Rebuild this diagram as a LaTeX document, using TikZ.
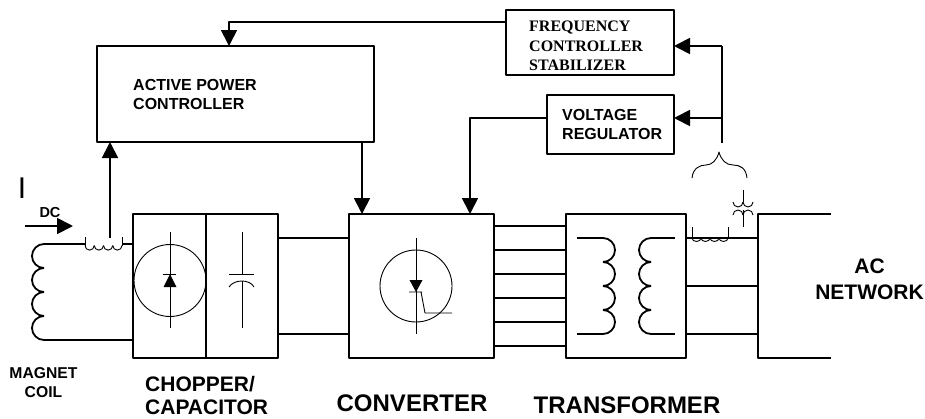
\documentclass[tikz,border=0pt]{standalone}
\usepackage{fontspec}
\setmainfont{Liberation Sans}
\newfontfamily\serifbold{Liberation Serif}
\usetikzlibrary{arrows.meta}
\tikzset{
	block/.style={draw, line width=1.8pt, inner sep=0pt, outer sep=0pt},
	wire/.style={line width=1.8pt},
	thinline/.style={line width=0.9pt},
	label/.style={inner sep=0pt, align=left, anchor=west, font=\bfseries\fontsize{16}{19}\selectfont},
	biglabel/.style={inner sep=0pt, align=center, font=\bfseries\fontsize{24}{26}\selectfont}
}
\begin{document}
\begin{tikzpicture}[x=1pt, y=1pt, yscale=-1, >={Triangle[length=16pt,width=16pt]}, line join=round]
	\useasboundingbox (0,0) rectangle (925,418);
	% blocks
	\node [block, minimum width=277pt, minimum height=96pt] (apc) at (235.5,94) {};
	\node [block, minimum width=168pt, minimum height=65pt] (fcs) at (590,42.5) {};
	\node [block, minimum width=127pt, minimum height=59pt] (vreg) at (610.5,124.5) {};
	\node [block, minimum width=73pt, minimum height=144pt] (chop) at (169.5,286) {};
	\node [block, minimum width=72pt, minimum height=144pt] (cap) at (242,286) {};
	\node [block, minimum width=145pt, minimum height=144pt] (conv) at (421.5,286) {};
	\node [block, minimum width=120pt, minimum height=144pt] (trans) at (626,286) {};
	% labels
	\node [label] (apctext) at (133,94) {ACTIVE POWER\\CONTROLLER};
	\node [label, font=\serifbold\bfseries\fontsize{16}{19.5}\selectfont] (fcstext) at (529,46) {FREQUENCY\\CONTROLLER\\STABILIZER};
	\node [label] (vregtext) at (562,124) {VOLTAGE\\REGULATOR};
	\node [inner sep=0pt, font=\fontsize{30}{30}\selectfont] (itext) at (22,188) {I};
	\node [inner sep=0pt, font=\bfseries\fontsize{14.5}{16}\selectfont] (dctext) at (50,213) {DC};
	\node [label, align=center, anchor=center, font=\bfseries\fontsize{15.7}{19}\selectfont] (coiltext) at (43.5,382.5) {MAGNET\\COIL};
	\node [biglabel, align=left, anchor=north west, font=\bfseries\fontsize{21}{23}\selectfont] (choptext) at (145,376) {CHOPPER/\\CAPACITOR};
	\node [biglabel] (convtext) at (412,403) {CONVERTER};
	\node [biglabel] (transtext) at (627,405.5) {TRANSFORMER};
	\node [biglabel, font=\bfseries\fontsize{21}{26}\selectfont] (actext) at (869.5,279) {AC\\NETWORK};
	% feedback paths
	\coordinate (tap) at (722,143);
	\coordinate (busf) at (722,46);
	\coordinate (busv) at (722,118);
	\coordinate (cbar) at (110,238);
	\coordinate (apcin) at (229,22);
	\coordinate (vout) at (470,118);
	\draw [wire] (tap) -- (busf);
	\draw [wire, ->] (busf) -- (busf -| fcs.east);
	\draw [wire, ->] (busv) -- (busv -| vreg.east);
	\draw [wire, ->] (fcs.west |- apcin) -- (apcin) -- (apcin |- apc.north);
	\draw [wire, ->] (vreg.west |- vout) -- (vout) -- (vout |- conv.north);
	\draw [wire, ->] (362,142) -- (362,214);
	\draw [wire, ->] (cbar) -- (cbar |- apc.south);
	% DC current
	\coordinate (dcin) at (25,226);
	\coordinate (dcout) at (73,226);
	\draw [wire, ->] (dcin) -- (dcout);
	% magnet coil
	\coordinate (coila) at (44,244);
	\coordinate (coilb) at (44,340);
	\foreach \y in {256,280,304,328}{
		\draw [wire] (44,\y) ++(0,-12) arc (-90:-270:12);
	}
	\draw [wire] (coila) -- (85,244) (122,244) -- (coila -| chop.west) (coilb) -- (coilb -| chop.west);
	\draw [thinline] (85,237) -- (85,245.5) (122,237) -- (122,245.5);
	\foreach \x in {85,94.25,103.5,112.75}{
		\draw [thinline] (\x,245.5) arc (180:0:4.625);
	}
	% chopper
	\draw [thinline] (170,280.5) circle (36);
	\draw [thinline] (170,232) -- (170,328);
	\draw [thinline] (163,274) -- (176,274);
	\fill (170,274) -- (176.5,287) -- (163.5,287) -- cycle;
	% capacitor
	\draw [thinline] (242,232) -- (242,274) (229,274) -- (254,274) (242,281) -- (242,328);
	\draw [thinline] (229,287) .. controls (234,279) and (250,279) .. (254,287);
	% links
	\foreach \y in {238,334}{
		\draw [wire] (cap.east |- 0,\y) -- (conv.west |- 0,\y);
	}
	\foreach \y in {226,250,274,298,322,346}{
		\draw [wire] (conv.east |- 0,\y) -- (trans.west |- 0,\y);
	}
	% converter
	\draw [thinline] (416,286) circle (36);
	\draw [thinline] (416,238) -- (416,334);
	\fill (416,292) -- (409.5,280) -- (422.5,280) -- cycle;
	\draw [thinline] (409,292) -- (422,292) (421,292) -- (425,313) -- (452,313);
	% transformer
	\draw [wire] (577,238) -- (603,238) (603,334) -- (577,334);
	\draw [wire] (675,238) -- (651,238) (651,334) -- (675,334);
	\foreach \y in {250,274,298,322}{
		\draw [wire] (603,\y) ++(0,-12) arc (-90:90:12);
		\draw [wire] (651,\y) ++(0,-12) arc (-90:-270:12);
	}
	% AC side
	\node [draw=none, inner sep=0pt, outer sep=0pt, minimum width=1pt, minimum height=144pt] (acside) at (758,286) {};
	\draw [wire] (831,214) -- (acside.north) -- (acside.south) -- (831,358);
	\foreach \y in {238,286,334}{
		\draw [wire] (trans.east |- 0,\y) -- (acside.west |- 0,\y);
	}
	\draw [thinline] (692,227) -- (692,238) (728,227) -- (728,238);
	\foreach \x in {692,701,710,719}{
		\draw [thinline] (\x,238) arc (180:0:4.5 and 3.5);
	}
	% pickup
	\draw [thinline] (743,190) -- (743,202) (743,210) -- (743,227);
	\foreach \x in {733,743}{
		\draw [thinline] (\x,202) arc (180:0:5);
		\draw [thinline] (\x,215) arc (180:360:5);
	}
	\draw [thinline] (692,178) .. controls (693,168) and (700,165) .. (706,165) .. controls (712,165) and (717,160) .. (719,152) .. controls (721,160) and (726,165) .. (733,165) .. controls (740,165) and (746,168) .. (747,178);
\end{tikzpicture}
\end{document}
